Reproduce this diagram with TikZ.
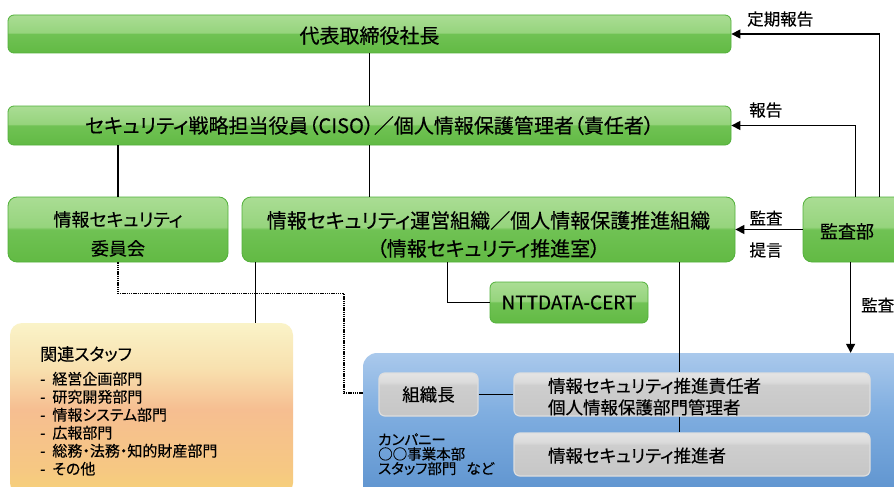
\documentclass[tikz,border=0pt]{standalone}
\usepackage{fontspec}
\setmainfont{Noto Sans CJK JP}[RawFeature={+palt}, FakeBold=0.35]
\usetikzlibrary{arrows.meta,calc}
\definecolor{gA}{RGB}{98,186,68}
\definecolor{gB}{RGB}{112,194,84}
\definecolor{gC}{RGB}{150,212,125}
\definecolor{gD}{RGB}{170,221,148}
\definecolor{gEdge}{RGB}{82,176,58}
\definecolor{bA}{RGB}{92,146,206}
\definecolor{bB}{RGB}{128,174,224}
\definecolor{bC}{RGB}{170,201,236}
\definecolor{oA}{RGB}{246,210,120}
\definecolor{oB}{RGB}{246,200,130}
\definecolor{oC}{RGB}{246,190,145}
\definecolor{oD}{RGB}{248,225,175}
\definecolor{oE}{RGB}{250,243,200}
\definecolor{kA}{RGB}{198,198,198}
\definecolor{kB}{RGB}{206,206,206}
\definecolor{kC}{RGB}{218,218,218}
\definecolor{kD}{RGB}{228,228,228}
\definecolor{kEdge}{RGB}{222,222,222}
\pgfdeclareverticalshading{greensh}{100bp}{color(0bp)=(gA); color(25bp)=(gA); color(50bp)=(gB); color(52bp)=(gC); color(75bp)=(gD); color(100bp)=(gD)}
\pgfdeclareverticalshading{bluesh}{100bp}{color(0bp)=(bA); color(25bp)=(bA); color(55bp)=(bB); color(75bp)=(bC); color(100bp)=(bC)}
\pgfdeclareverticalshading{orangesh}{100bp}{color(0bp)=(oA); color(25bp)=(oA); color(32bp)=(oB); color(50bp)=(oC); color(62bp)=(oD); color(75bp)=(oE); color(100bp)=(oE)}
\pgfdeclareverticalshading{greysh}{100bp}{color(0bp)=(kA); color(25bp)=(kA); color(61bp)=(kB); color(64bp)=(kC); color(75bp)=(kD); color(100bp)=(kD)}
\begin{document}
\begin{tikzpicture}[x=1pt,y=-1pt,
  gbox/.style={draw=gEdge, line width=0.8pt, shade, shading=greensh, rounded corners=6pt, inner sep=0pt, align=center},
  kbox/.style={draw=kEdge, line width=1.2pt, shade, shading=greysh, rounded corners=6pt, inner sep=0pt},
  lbl/.style={inner sep=0pt, font=\fontsize{16.5}{19}\selectfont},
  conn/.style={line width=1.3pt},
  arr/.style={line width=1.3pt, -{Triangle[length=9pt,width=9pt]}},
  dotline/.style={line width=1.4pt, dash pattern=on 1.3pt off 0.9pt}]
\useasboundingbox (0,0) rectangle (894,487);
\clip (0,0) rectangle (894,487);
\fill[white] (0,0) rectangle (894,487);

% green boxes
\node[gbox, minimum width=723pt, minimum height=38pt, font=\fontsize{20}{24}\selectfont] (ceo) at (369.5,34) {\rule{0pt}{20pt}代表取締役社長};
\node[gbox, minimum width=723pt, minimum height=39pt, font=\fontsize{20}{24}\selectfont] (ciso) at (369.5,125.5) {セキュリティ戦略担当役員（CISO）／個人情報保護管理者（責任者）};
\node[gbox, rounded corners=9pt, minimum width=220pt, minimum height=65pt, font=\fontsize{18}{29}\selectfont] (iinkai) at (118,229.5) {\rule{0pt}{24pt}情報セキュリティ\\委員会};
\node[gbox, rounded corners=9pt, minimum width=493pt, minimum height=65pt, font=\fontsize{20}{28}\selectfont] (unei) at (488.5,229.5) {\rule{0pt}{27pt}情報セキュリティ運営組織／個人情報保護推進組織\\（情報セキュリティ推進室）};
\node[gbox, rounded corners=9pt, minimum width=107pt, minimum height=65pt, font=\fontsize{18}{22}\selectfont] (kansa) at (856.5,229.5) {\hspace*{-19pt}\rule{0pt}{19pt}監査部};
\node[gbox, minimum width=158pt, minimum height=41pt, font=\fontsize{19}{22}\selectfont] (ntt) at (569,302.5) {NTTDATA-CERT};

% staff box
\node[shade, shading=orangesh, rounded corners=12pt, minimum width=283pt, minimum height=172pt, inner sep=0pt] (staff) at (151.5,409) {};
\node[anchor=north west, inner sep=0pt, align=left, font=\fontsize{15}{18}\selectfont] (stafftext) at (40,346)
 {{\fontsize{17}{20}\selectfont 関連スタッフ}\\[6pt]
  -\hspace{7pt}経営企画部門\\
  -\hspace{7pt}研究開発部門\\
  -\hspace{7pt}情報システム部門\\
  -\hspace{7pt}広報部門\\
  -\hspace{7pt}総務・法務・知的財産部門\\
  -\hspace{7pt}その他};

% blue box
\node[shade, shading=bluesh, rounded corners=14pt, minimum width=542pt, minimum height=147pt, inner sep=0pt] (blue) at (634,426.5) {};
\node[kbox, minimum width=99pt, minimum height=43pt, font=\fontsize{17.5}{21}\selectfont] (soshiki) at (428.5,394.5) {組織長};
\node[kbox, text width=288pt, inner xsep=34pt, minimum height=43pt, align=left, font=\fontsize{17.5}{21.5}\selectfont] (sekinin) at (692,394.5) {\rule{0pt}{19pt}情報セキュリティ推進責任者\\個人情報保護部門管理者};
\node[kbox, text width=288pt, inner xsep=34pt, minimum height=43pt, align=left, font=\fontsize{17.5}{21.5}\selectfont] (suishin) at (692,454.5) {\rule{0pt}{17pt}情報セキュリティ推進者};
\node[anchor=north west, inner sep=0pt, align=left, font=\fontsize{14.5}{14.5}\selectfont] (company) at (378,433)
 {カンパニー\\○○事業本部\\スタッフ部門\hspace{10pt}など};

% labels
\node[lbl, anchor=west] (lteiki) at (747,19) {定期報告};
\node[lbl, anchor=west] (lhoukoku) at (749,110) {報告};
\node[lbl] (lkansa1) at (766,218) {監査};
\node[lbl] (lteigen) at (766,250) {提言};
\node[lbl, anchor=west] (lkansa2) at (861,305) {監査};

% connectors
\draw[conn] (ceo.south -| ciso.north) -- (ciso.north);
\draw[conn] (iinkai.north) -- (iinkai.north |- ciso.south);
\draw[conn] (ciso.south) -- (ciso.south |- unei.north);
\draw[arr] ($(kansa.north west)+(77,0)$) |- (ceo.east);
\draw[arr] ($(kansa.north west)+(53,0)$) |- (ciso.east);
\draw[arr] (kansa.west) -- (unei.east);
\coordinate (kd) at ($(kansa.south west)+(48,0)$);
\draw[arr] (kd) -- (kd |- blue.north);
\draw[conn] ($(unei.south west)+(206,0)$) |- (ntt.west);
\coordinate (st) at ($(unei.south west)+(14,0)$);
\draw[conn] (st) -- (st |- staff.north);
\coordinate (sk) at ($(unei.south west)+(438,0)$);
\draw[conn] (sk) -- (sk |- sekinin.north);
\draw[conn] (sk |- sekinin.south) -- (sk |- suishin.north);
\draw[conn] (soshiki.east) -- (sekinin.west);
\draw[dotline] (iinkai.south) -- ++(0,31) -| ($(blue.west)+(-19,-33.5)$) -- ($(blue.west)+(0,-33.5)$);
\end{tikzpicture}
\end{document}
